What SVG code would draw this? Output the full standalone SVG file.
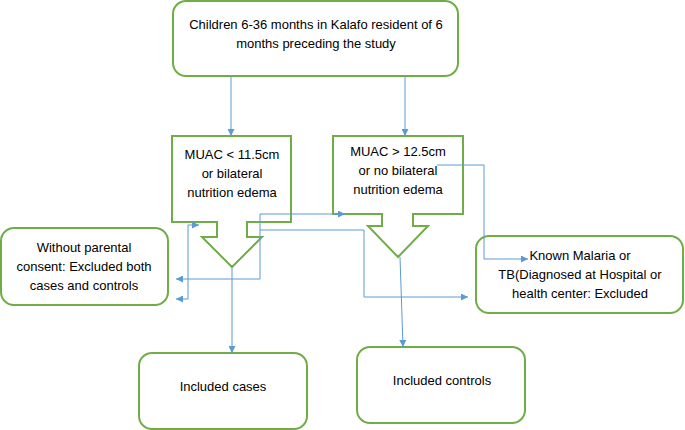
<svg xmlns="http://www.w3.org/2000/svg" width="685" height="430" viewBox="0 0 685 430">
<defs>
<style>
.box{fill:#fff;stroke:#70AD47;stroke-width:2}
.t{font-family:"Liberation Sans",Arial,sans-serif;font-size:13px;fill:#000;text-anchor:middle;dominant-baseline:central}
.c{fill:none;stroke:#5B9BD5;stroke-width:1}
</style>
<marker id="ah" viewBox="0 0 10 10" refX="10" refY="5" markerWidth="9" markerHeight="7" markerUnits="userSpaceOnUse" orient="auto-start-reverse">
<path d="M0,0 L10,5 L0,10 z" fill="#5B9BD5"/>
</marker>
</defs>
<rect width="685" height="430" fill="#fff"/>
<g id="start">
<rect class="box" x="173" y="1" width="285" height="75" rx="13"/>
<text class="t" x="316" y="24">Children 6-36 months in Kalafo resident of 6</text>
<text class="t" x="316" y="43">months preceding the study</text>
</g>
<g id="cases-criteria">
<path class="box" d="M172,136 H291 V222 H247 V237 H262 L232,267 L202,237 H217 V222 H172 Z"/>
<text class="t" x="232" y="154">MUAC &lt; 11.5cm</text>
<text class="t" x="232" y="173">or bilateral</text>
<text class="t" x="232" y="192">nutrition edema</text>
</g>
<g id="controls-criteria">
<path class="box" d="M333,136 H463 V214 H413 V226 H428 L398,257 L368,226 H382 V214 H333 Z"/>
<text class="t" x="398" y="151">MUAC &gt; 12.5cm</text>
<text class="t" x="398" y="170">or no bilateral</text>
<text class="t" x="398" y="189">nutrition edema</text>
</g>
<g id="no-consent">
<rect class="box" x="1" y="228" width="167" height="77" rx="13"/>
<text class="t" x="84" y="247">Without parental</text>
<text class="t" x="84" y="266">consent: Excluded both</text>
<text class="t" x="84" y="285">cases and controls</text>
</g>
<g id="malaria-tb">
<rect class="box" x="476" y="236" width="207" height="77" rx="13"/>
<text class="t" x="580" y="255">Known Malaria or</text>
<text class="t" x="580" y="274">TB(Diagnosed at Hospital or</text>
<text class="t" x="580" y="293">health center: Excluded</text>
</g>
<g id="included-cases">
<rect class="box" x="139" y="353" width="168" height="76" rx="13"/>
<text class="t" x="223" y="386">Included cases</text>
</g>
<g id="included-controls">
<rect class="box" x="357" y="347" width="168" height="76" rx="13"/>
<text class="t" x="442" y="380">Included controls</text>
</g>
<g id="connectors">
<path class="c" d="M231,76 V136" marker-end="url(#ah)"/>
<path class="c" d="M405,76 V136" marker-end="url(#ah)"/>
<path class="c" d="M232,267 V353" marker-end="url(#ah)"/>
<path class="c" d="M400,257 L403,347" marker-end="url(#ah)"/>
<path class="c" d="M176,299 H188 V225 H199" marker-start="url(#ah)" marker-end="url(#ah)"/>
<path class="c" d="M176,279 H260 V214 H345" marker-start="url(#ah)" marker-end="url(#ah)"/>
<path class="c" d="M260,230 H364 V297 H468" marker-end="url(#ah)"/>
<path class="c" d="M437,165 H484 V259 H528" marker-end="url(#ah)"/>
</g>
</svg>
